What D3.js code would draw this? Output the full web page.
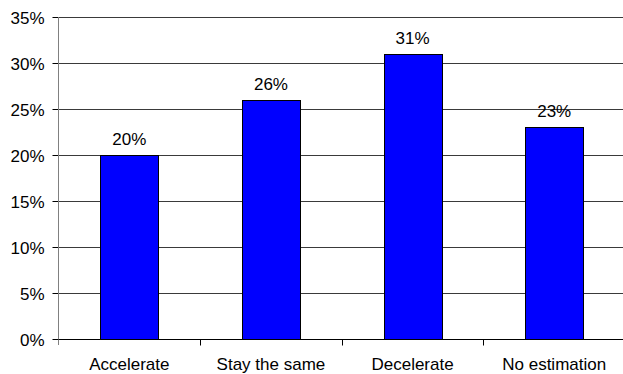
<!DOCTYPE html>
<html>
<head>
<meta charset="utf-8">
<script src="https://cdn.jsdelivr.net/npm/d3@7"></script>
<style>
  html, body { margin: 0; padding: 0; background: #fff; }
  svg { display: block; font-family: "Liberation Sans", Arial, sans-serif; }
</style>
</head>
<body>
<svg id="chart" width="623" height="374"></svg>
<script>
// Expected change in pace, share of respondents
const categories = ["Accelerate", "Stay the same", "Decelerate", "No estimation"];
const shares = [20, 26, 31, 23];
const yTicks = [0, 5, 10, 15, 20, 25, 30, 35];

const svg = d3.select("#chart");
const plotLeft = 58.5, plotRight = 625, plotTop = 17, plotBottom = 339;

const x = d3.scaleBand().domain(categories).range([plotLeft, plotRight]).paddingInner(0.59).paddingOuter(0.295);
const y = d3.scaleLinear().domain([0, 35]).range([plotBottom, plotTop]);

// Horizontal gridlines
svg.append("g").selectAll("line").data(yTicks.filter(d => d > 0)).join("line")
  .attr("x1", plotLeft).attr("x2", 623)
  .attr("y1", d => Math.round(y(d)) + 0.5).attr("y2", d => Math.round(y(d)) + 0.5)
  .attr("stroke", "#3a3a3a").attr("stroke-width", 1);

// Bars
svg.append("g").selectAll("rect").data(shares).join("rect")
  .attr("x", (d, i) => Math.round(x(categories[i])) + 0.5)
  .attr("y", d => Math.round(y(d)) + 0.5)
  .attr("width", Math.round(x.bandwidth()))
  .attr("height", d => Math.round(y(0)) - Math.round(y(d)))
  .attr("fill", "#0000ff").attr("stroke", "#000").attr("stroke-width", 1);

// Value labels
svg.append("g").selectAll("text").data(shares).join("text")
  .attr("x", (d, i) => x(categories[i]) + x.bandwidth() / 2)
  .attr("y", d => y(d) - 10)
  .attr("text-anchor", "middle").attr("font-size", 17).attr("fill", "#000")
  .text(d => d + "%");

// Y axis
const yAxis = svg.append("g").attr("transform", `translate(${plotLeft},0)`)
  .call(d3.axisLeft(y).tickValues(yTicks).tickSize(6).tickPadding(8).tickFormat(d => d + "%"));
yAxis.select(".domain").remove();
yAxis.selectAll(".tick line").attr("stroke", "#000");
yAxis.selectAll(".tick text").attr("font-size", 17).attr("font-family", "Liberation Sans, Arial, sans-serif")
  .attr("fill", "#000").attr("dy", "0.36em");
svg.append("line").attr("x1", plotLeft).attr("x2", plotLeft).attr("y1", plotTop).attr("y2", plotBottom + 6)
  .attr("stroke", "#808080").attr("stroke-width", 1);

// X axis: baseline, boundary ticks and category labels
const xAxisY = Math.round(y(0)) + 0.5;
svg.append("line").attr("x1", plotLeft).attr("x2", 623).attr("y1", xAxisY).attr("y2", xAxisY)
  .attr("stroke", "#000").attr("stroke-width", 1);
const step = x.step();
svg.append("g").selectAll("line").data(categories.slice(1)).join("line")
  .attr("x1", d => Math.round(x(d) - x.paddingInner() * step / 2) + 0.5)
  .attr("x2", d => Math.round(x(d) - x.paddingInner() * step / 2) + 0.5)
  .attr("y1", xAxisY).attr("y2", xAxisY + 6)
  .attr("stroke", "#000").attr("stroke-width", 1);
svg.append("g").selectAll("text").data(categories).join("text")
  .attr("x", d => x(d) + x.bandwidth() / 2)
  .attr("y", 370)
  .attr("text-anchor", "middle").attr("font-size", 17).attr("fill", "#000")
  .text(d => d);
</script>
</body>
</html>
